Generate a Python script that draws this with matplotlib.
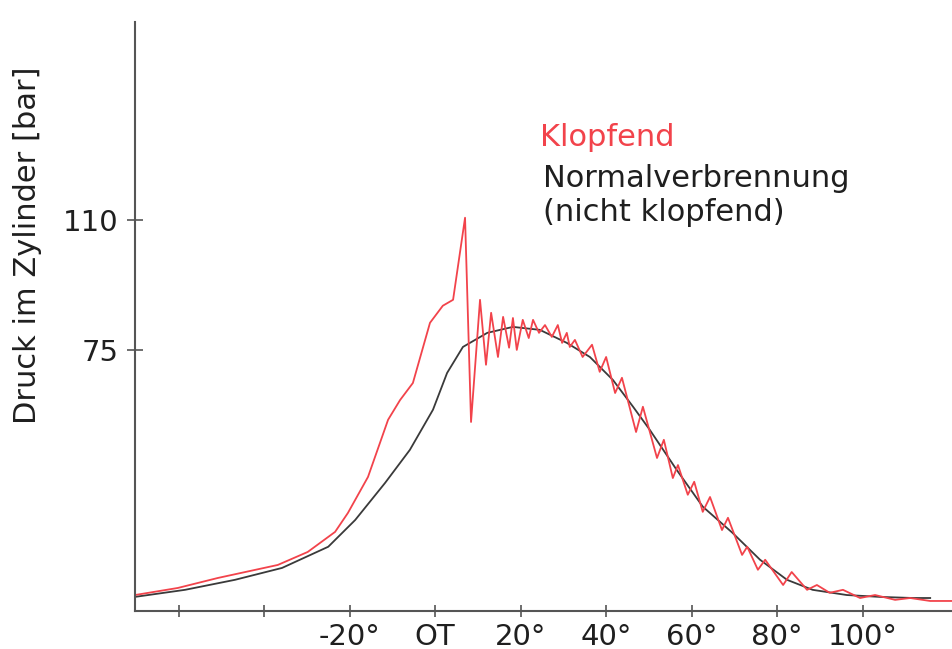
import matplotlib
matplotlib.use("Agg")
import matplotlib.pyplot as plt

# crank angle [deg] and cylinder pressure [bar]
normal_deg = [-70.2, -58.5, -46.8, -35.8, -25.0, -18.7, -11.7, -5.9, -0.5, 2.8,
              6.5, 12.2, 18.2, 24.5, 30.8, 36.2, 41.6, 46.3, 50.2, 56.5,
              62.6, 69.6, 76.0, 82.3, 88.3, 96.3, 104.0, 111.8, 115.8]
normal_bar = [8.5, 10.4, 13.1, 16.3, 22.0, 29.2, 39.2, 48.1, 58.9, 68.8,
              75.8, 79.6, 81.2, 80.4, 76.9, 73.1, 66.9, 59.7, 53.5, 42.7,
              32.8, 25.7, 18.5, 13.1, 10.4, 9.0, 8.5, 8.2, 8.2]

knock_deg = [-70.2, -60.2, -50.8, -36.8, -29.8, -23.4, -20.4, -15.7, -11.0, -8.2,
             -5.2, -1.2, 1.8, 4.2, 7.0, 8.4, 10.5, 11.9, 13.1, 14.7,
             15.9, 17.3, 18.2, 19.1, 20.5, 21.9, 22.9, 24.3, 25.7, 27.3,
             28.7, 29.7, 30.8, 31.5, 32.7, 34.5, 36.7, 38.5, 40.0, 42.1,
             43.7, 47.0, 48.6, 51.9, 53.5, 55.6, 56.8, 59.1, 60.6, 62.6,
             64.3, 67.1, 68.5, 71.8, 73.0, 75.5, 77.2, 81.4, 83.4, 87.0,
             89.3, 92.3, 95.4, 99.4, 102.9, 107.6, 111.1, 115.8, 120.9]
knock_bar = [9.0, 10.9, 13.6, 17.1, 20.6, 26.0, 31.1, 40.8, 56.2, 61.5,
             66.1, 82.3, 86.9, 88.5, 110.6, 55.6, 88.5, 71.0, 85.0, 73.1,
             83.9, 75.6, 83.6, 75.0, 83.1, 78.2, 83.1, 79.6, 81.7, 78.5,
             81.7, 76.9, 79.6, 75.8, 77.7, 73.1, 76.4, 69.1, 73.1, 63.4,
             67.5, 52.9, 59.7, 45.9, 50.8, 40.5, 44.0, 36.0, 39.5, 31.4,
             35.4, 26.5, 29.8, 19.8, 22.0, 15.8, 18.5, 11.7, 15.2, 10.4,
             11.7, 9.6, 10.4, 8.2, 9.0, 7.7, 8.2, 7.4, 7.4]

x_ticks = [-60, -40, -20, 0, 20, 40, 60, 80, 100]
x_labels = ["", "", "-20°", "OT", "20°", "40°", "60°", "80°", "100°"]
y_ticks = [75, 110]

RED = "#f2434b"
DARK = "#3a3a3a"
TXT = "#1f1f1f"
FS = 21

fig = plt.figure(figsize=(9.52, 6.49), dpi=100)
ax = fig.add_axes([135 / 952, 1 - 611 / 649, 1 - 135 / 952, (611 - 22) / 649])

ax.plot(normal_deg, normal_bar, color=DARK, lw=1.3)
ax.plot(knock_deg, knock_bar, color=RED, lw=1.3)

ax.set_xlim(-70.2, 120.9)
ax.set_ylim(4.7, 163.3)

for s in ["top", "right"]:
    ax.spines[s].set_visible(False)
for s in ["left", "bottom"]:
    ax.spines[s].set_color("#555555")
    ax.spines[s].set_linewidth(1.5)

ax.set_xticks(x_ticks)
ax.set_xticklabels(x_labels, fontsize=FS)
ax.set_yticks(y_ticks)
ax.set_yticklabels([str(v) for v in y_ticks], fontsize=FS)
ax.tick_params(axis="x", direction="inout", length=9, width=1.2,
               color="#555555", pad=4, labelcolor=TXT)
ax.tick_params(axis="y", direction="inout", length=12, width=1.2,
               color="#555555", pad=6, labelcolor=TXT)

fig.text(28 / 952, 1 - 245 / 649, "Druck im Zylinder [bar]", rotation=90,
         fontsize=22, color=TXT, ha="center", va="center")

ax.text(24.5, 129.8, "Klopfend", color=RED, fontsize=22, va="baseline")
ax.text(25.3, 118.9, "Normalverbrennung", color=TXT, fontsize=22, va="baseline")
ax.text(25.3, 109.6, "(nicht klopfend)", color=TXT, fontsize=22, va="baseline")

fig.savefig("out.png", dpi=100)
